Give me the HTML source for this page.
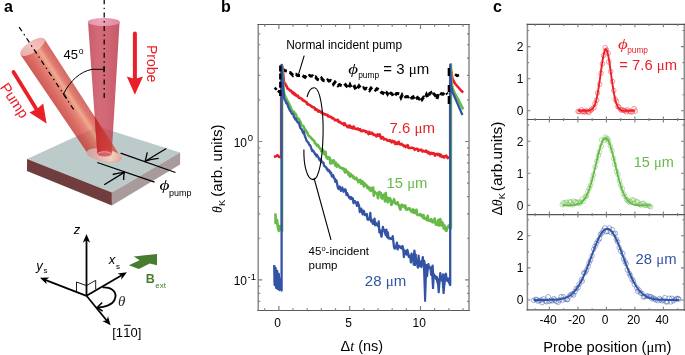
<!DOCTYPE html>
<html><head><meta charset="utf-8"><style>
html,body{margin:0;padding:0;background:#fff;width:685px;height:355px;overflow:hidden}
svg{display:block;will-change:transform}
</style></head><body>
<svg width="685" height="355" viewBox="0 0 685 355"><text x="4" y="11.9" font-family='"Liberation Sans", sans-serif' font-size="16" fill="#000" text-anchor="start" font-weight="bold" font-style="normal" >a</text>
<text x="221" y="11.9" font-family='"Liberation Sans", sans-serif' font-size="16" fill="#000" text-anchor="start" font-weight="bold" font-style="normal" >b</text>
<text x="493" y="11.9" font-family='"Liberation Sans", sans-serif' font-size="16" fill="#000" text-anchor="start" font-weight="bold" font-style="normal" >c</text>
<defs>
<linearGradient id="pumpG" gradientUnits="userSpaceOnUse" x1="20.56" y1="54.73" x2="44.44" y2="38.97">
 <stop offset="0" stop-color="rgb(192,44,38)"/>
 <stop offset="0.25" stop-color="rgb(207,66,56)"/>
 <stop offset="0.5" stop-color="rgb(224,103,82)"/>
 <stop offset="0.63" stop-color="rgb(236,146,114)"/>
 <stop offset="0.78" stop-color="rgb(215,86,71)"/>
 <stop offset="1" stop-color="rgb(200,61,54)"/>
</linearGradient>
<linearGradient id="ovG" gradientUnits="userSpaceOnUse" x1="95" y1="0" x2="118" y2="0">
 <stop offset="0" stop-color="#c0201c" stop-opacity="0.75"/>
 <stop offset="0.5" stop-color="#cc3428" stop-opacity="0.6"/>
 <stop offset="1" stop-color="#d45040" stop-opacity="0.4"/>
</linearGradient>
<linearGradient id="probeG" gradientUnits="userSpaceOnUse" x1="88" y1="0" x2="120" y2="0">
 <stop offset="0" stop-color="rgb(188,52,70)"/>
 <stop offset="0.35" stop-color="rgb(200,71,86)"/>
 <stop offset="0.6" stop-color="rgb(197,65,81)"/>
 <stop offset="1" stop-color="rgb(184,48,66)"/>
</linearGradient>
<linearGradient id="capG" gradientUnits="userSpaceOnUse" x1="20" y1="54" x2="45" y2="39">
 <stop offset="0" stop-color="#e9a7a6"/>
 <stop offset="0.5" stop-color="#f4c4bc"/>
 <stop offset="1" stop-color="#eaa9a6"/>
</linearGradient>
<linearGradient id="pcapG" gradientUnits="userSpaceOnUse" x1="87" y1="0" x2="120" y2="0">
 <stop offset="0" stop-color="#e48fa6"/>
 <stop offset="0.4" stop-color="#eda4b8"/>
 <stop offset="1" stop-color="#e08a9c"/>
</linearGradient>
<linearGradient id="spotG" gradientUnits="userSpaceOnUse" x1="86.9" y1="152.2" x2="121.7" y2="158.4">
 <stop offset="0" stop-color="#d2aaa8"/>
 <stop offset="0.35" stop-color="#e2b8b4"/>
 <stop offset="0.7" stop-color="#f2d8c0"/>
 <stop offset="0.85" stop-color="#eec4b4"/>
 <stop offset="1" stop-color="#e6a4a0"/>
</linearGradient>
</defs>
<polygon points="27,158.9 97.9,126.6 180.1,152.5 111.9,192.6" fill="#bccbca"/>
<polygon points="27,158.9 111.9,192.6 111.9,205.4 27,170.9" fill="#6f3d3d"/>
<polygon points="111.9,192.6 180.1,152.5 180.1,164.5 111.9,205.4" fill="#a99b9b"/>
<path d="M20.56,54.73 L86.87,152.2 A17.7,6 10 0 0 121.73,158.4 L44.44,38.97 Z" fill="url(#pumpG)" fill-opacity="0.78"/>
<ellipse cx="104.3" cy="155.3" rx="17.7" ry="6" transform="rotate(10 104.3 155.3)" fill="url(#spotG)" fill-opacity="0.9" stroke="#e3b0ac" stroke-width="0.6"/>
<ellipse cx="32.5" cy="46.85" rx="14.3" ry="5.6" transform="rotate(-33.42 32.5 46.85)" fill="url(#capG)"/>
<path d="M88,22 L97.3,154 A7.2,2.6 0 0 0 111.7,154 L119.6,22 Z" fill="url(#probeG)" fill-opacity="0.8"/>
<ellipse cx="103.8" cy="22" rx="16.1" ry="4" fill="url(#pcapG)"/>
<clipPath id="probeClip"><path d="M88,22 L97.3,154 A7.2,2.6 0 0 0 111.7,154 L119.6,22 Z"/></clipPath>
<path clip-path="url(#probeClip)" d="M20.56,54.73 L86.87,152.2 A17.7,6 10 0 0 121.73,158.4 L44.44,38.97 Z" fill="url(#ovG)"/>
<ellipse cx="104.5" cy="154.4" rx="7.1" ry="2.7" fill="#e08088" fill-opacity="0.55" stroke="#f0c4c4" stroke-width="0.7"/>
<line x1="19.2" y1="27.1" x2="74" y2="110" stroke="#000" stroke-width="1.25" stroke-dasharray="5 3.5 1.4 3.5"/>
<line x1="104.2" y1="-0.8" x2="104.2" y2="99" stroke="#000" stroke-width="1.25" stroke-dasharray="5 3.5 1.4 3.5"/>
<path d="M63.6,93.8 C70,81 80,71.5 92.3,69.3 L104,69.3" fill="none" stroke="#000" stroke-width="1"/>
<line x1="104" y1="66.6" x2="104" y2="72.2" stroke="#000" stroke-width="1.2"/>
<line x1="63.2" y1="93" x2="66.6" y2="98.4" stroke="#000" stroke-width="1.2"/>
<text x="63.5" y="58.7" font-family='"Liberation Sans", sans-serif' font-size="13" fill="#000" text-anchor="start" font-weight="normal" font-style="normal" >45</text>
<text x="78.8" y="54.2" font-family='"Liberation Sans", sans-serif' font-size="8.5" fill="#000" text-anchor="start" font-weight="normal" font-style="normal" >o</text>
<line x1="13.5" y1="71.9" x2="36" y2="108.5" stroke="#eb1f27" stroke-width="3.8" stroke-linecap="round"/>
<polygon points="46.6,123.6 29.4,112.6 36.9,108.9 43.2,103.4" fill="#eb1f27"/>
<text x="0" y="0" font-family='"Liberation Sans", sans-serif' font-size="14.8" fill="#eb1f27" transform="translate(-0.5 87.3) rotate(56.3)">Pump</text>
<line x1="134.9" y1="33.6" x2="134.9" y2="80" stroke="#eb1f27" stroke-width="4" stroke-linecap="round"/>
<polygon points="126.8,76.4 134.9,94.8 143,76.4 134.9,79" fill="#eb1f27"/>
<text x="0" y="0" font-family='"Liberation Sans", sans-serif' font-size="14" fill="#eb1f27" transform="translate(147.3 45) rotate(90)">Probe</text>
<line x1="120.6" y1="153.2" x2="175.5" y2="172.5" stroke="#000" stroke-width="1.3"/>
<line x1="97.3" y1="162.5" x2="154.6" y2="182.1" stroke="#000" stroke-width="1.3"/>
<line x1="166.3" y1="148.5" x2="145.2" y2="161.2" stroke="#000" stroke-width="1.3"/>
<path d="M147.3,152.4 Q146,158 145.2,161.2 Q151,159 158.6,158.4" fill="none" stroke="#000" stroke-width="1.3"/>
<line x1="104.2" y1="184.7" x2="124.3" y2="172.4" stroke="#000" stroke-width="1.3"/>
<path d="M112.7,174.5 Q119,173 124.3,172.4 Q123.6,176 123.6,180.1" fill="none" stroke="#000" stroke-width="1.3"/>
<text x="159.6" y="190.2" font-family='"Liberation Serif", serif' font-size="15.3" fill="#000" text-anchor="start" font-weight="normal" font-style="italic" textLength="10" lengthAdjust="spacingAndGlyphs">&#981;</text>
<text x="169" y="195.8" font-family='"Liberation Sans", sans-serif' font-size="9" fill="#000" text-anchor="start" font-weight="normal" font-style="normal" >pump</text>
<line x1="86.5" y1="295.8" x2="86.5" y2="239.6" stroke="#000" stroke-width="1.8"/>
<polygon points="86.5,234.1 90.2,242.7 86.5,240.29 82.8,242.7" fill="#000"/>
<line x1="86.5" y1="295.8" x2="45.13" y2="279.79" stroke="#000" stroke-width="1.8"/>
<polygon points="40,277.8 49.36,277.45 45.77,280.04 46.68,284.36" fill="#000"/>
<line x1="86.5" y1="295.8" x2="122.15" y2="275.07" stroke="#000" stroke-width="1.8"/>
<polygon points="126.9,272.3 121.33,279.82 121.55,275.41 117.61,273.43" fill="#000"/>
<line x1="86.5" y1="295.8" x2="107.11" y2="320.95" stroke="#000" stroke-width="1.8"/>
<polygon points="110.6,325.2 102.29,320.89 106.67,320.41 108.01,316.2" fill="#000"/>
<polyline points="76.5,291.9 76.5,282 86.5,285.6 95.7,280.3 95.7,289.4" fill="none" stroke="#000" stroke-width="0.9"/>
<path d="M102.6,287.4 C112,287 118,292 114.5,300 C112,305 104,307.5 98,307.3" fill="none" stroke="#000" stroke-width="1.8"/>
<polyline points="102.2,302.5 97.3,307.3 102.6,311.2" fill="none" stroke="#000" stroke-width="1.6"/>
<text x="118" y="305.8" font-family='"Liberation Serif", serif' font-size="15" fill="#000" text-anchor="start" font-weight="normal" font-style="italic" opacity="0.85">&#952;</text>
<text x="73.8" y="234.4" font-family='"Liberation Sans", sans-serif' font-size="13" fill="#000" text-anchor="start" font-weight="normal" font-style="italic" >z</text>
<text x="36.2" y="269.6" font-family='"Liberation Sans", sans-serif' font-size="13" fill="#000" text-anchor="start" font-weight="normal" font-style="italic" >y</text>
<text x="43.5" y="273.2" font-family='"Liberation Sans", sans-serif' font-size="8" fill="#000" text-anchor="start" font-weight="normal" font-style="normal" >s</text>
<text x="108.8" y="264.4" font-family='"Liberation Sans", sans-serif' font-size="13" fill="#000" text-anchor="start" font-weight="normal" font-style="italic" >x</text>
<text x="116" y="268.6" font-family='"Liberation Sans", sans-serif' font-size="8" fill="#000" text-anchor="start" font-weight="normal" font-style="normal" >s</text>
<polygon points="128.9,265.3 139.6,260.2 133.7,256.4 157,253.9 157,265.3 149.8,263.4 138.8,269.1" fill="#477d31"/>
<text x="145.8" y="283" font-family='"Liberation Sans", sans-serif' font-size="12.5" fill="#477d31" text-anchor="start" font-weight="bold" font-style="normal" >B</text>
<text x="155.3" y="287.5" font-family='"Liberation Sans", sans-serif' font-size="8" fill="#477d31" text-anchor="start" font-weight="normal" font-style="normal" >ext</text>
<text x="112.2" y="336.9" font-family='"Liberation Sans", sans-serif' font-size="13" fill="#000" text-anchor="start" font-weight="normal" font-style="normal" >[1</text>
<text x="123.2" y="336.9" font-family='"Liberation Sans", sans-serif' font-size="13" fill="#000" text-anchor="start" font-weight="normal" font-style="normal" >1</text>
<line x1="124" y1="325.3" x2="130.7" y2="325.3" stroke="#000" stroke-width="1"/>
<text x="130.5" y="336.9" font-family='"Liberation Sans", sans-serif' font-size="13" fill="#000" text-anchor="start" font-weight="normal" font-style="normal" >0]</text>
<path d="M258.2,23.9V311.1M469,23.9V311.1" stroke="#8c8c8c" stroke-width="1.5" fill="none"/>
<path d="M257.5,24.5H469.7M257.5,310.5H469.7" stroke="#5a5a5a" stroke-width="1.15" fill="none"/>
<path d="M264.74,310.5v-2.2M264.74,24.5v2.2M278.9,310.5v-4.4M278.9,24.5v4.4M293.06,310.5v-2.2M293.06,24.5v2.2M307.22,310.5v-2.2M307.22,24.5v2.2M321.38,310.5v-2.2M321.38,24.5v2.2M335.54,310.5v-2.2M335.54,24.5v2.2M349.7,310.5v-4.4M349.7,24.5v4.4M363.86,310.5v-2.2M363.86,24.5v2.2M378.02,310.5v-2.2M378.02,24.5v2.2M392.18,310.5v-2.2M392.18,24.5v2.2M406.34,310.5v-2.2M406.34,24.5v2.2M420.5,310.5v-4.4M420.5,24.5v4.4M434.66,310.5v-2.2M434.66,24.5v2.2M448.82,310.5v-2.2M448.82,24.5v2.2M462.98,310.5v-2.2M462.98,24.5v2.2M258.2,301.34h2M469,301.34h-2M258.2,293.31h2M469,293.31h-2M258.2,286.23h2M469,286.23h-2M258.2,279.9h4M469,279.9h-4M258.2,238.24h2M469,238.24h-2M258.2,213.87h2M469,213.87h-2M258.2,196.57h2M469,196.57h-2M258.2,183.16h2M469,183.16h-2M258.2,172.2h2M469,172.2h-2M258.2,162.94h2M469,162.94h-2M258.2,154.91h2M469,154.91h-2M258.2,147.83h2M469,147.83h-2M258.2,141.5h4M469,141.5h-4M258.2,99.84h2M469,99.84h-2M258.2,75.47h2M469,75.47h-2M258.2,58.17h2M469,58.17h-2M258.2,44.76h2M469,44.76h-2M258.2,33.8h2M469,33.8h-2" stroke="#7f7f7f" stroke-width="1.2" fill="none"/>
<text x="277.7" y="327" font-family='"Liberation Sans", sans-serif' font-size="12" fill="#000" text-anchor="middle" font-weight="normal" font-style="normal" >0</text>
<text x="348.5" y="327" font-family='"Liberation Sans", sans-serif' font-size="12" fill="#000" text-anchor="middle" font-weight="normal" font-style="normal" >5</text>
<text x="419.3" y="327" font-family='"Liberation Sans", sans-serif' font-size="12" fill="#000" text-anchor="middle" font-weight="normal" font-style="normal" >10</text>
<text x="233.7" y="146.9" font-family='"Liberation Sans", sans-serif' font-size="12" fill="#000" text-anchor="start" font-weight="normal" font-style="normal" >10</text>
<text x="247.8" y="141.2" font-family='"Liberation Sans", sans-serif' font-size="9.5" fill="#000" text-anchor="start" font-weight="normal" font-style="normal" >0</text>
<text x="233.7" y="285.4" font-family='"Liberation Sans", sans-serif' font-size="12" fill="#000" text-anchor="start" font-weight="normal" font-style="normal" >10</text>
<text x="247.6" y="279.6" font-family='"Liberation Sans", sans-serif' font-size="9.5" fill="#000" text-anchor="start" font-weight="normal" font-style="normal" >-1</text>
<text font-family='"Liberation Sans", sans-serif' font-size="14" fill="#000" transform="translate(221.8 213) rotate(-90)"><tspan font-family='"Liberation Serif", serif' font-style="italic">&#952;</tspan><tspan font-size="9.5" dy="3">K</tspan></text>
<text font-family='"Liberation Sans", sans-serif' font-size="14.5" fill="#000" transform="translate(221.8 196.8) rotate(-90)" textLength="72.3" lengthAdjust="spacingAndGlyphs">(arb. units)</text>
<text font-family='"Liberation Sans", sans-serif' font-size="14" fill="#000" x="340.5" y="351" textLength="42.6" lengthAdjust="spacingAndGlyphs"><tspan>&#916;</tspan><tspan font-family='"Liberation Serif", serif' font-style="italic">t</tspan> (ns)</text>
<polyline points="282.5,69 284,70.22 285.5,70.9 287,71.1 288.5,72.24 290,72.51 291.5,73.84 293,75.39 294.5,74.13 296,74.26 297.5,75.44 299,75.5 300.5,75.52 302,74.98 303.5,76.18 305,77.23 306.5,75.57 308,76.55 309.5,75.43 311,76.16 312.5,75.84 314,77.47 315.5,76.92 317,79.08 318.5,79.76 320,80.23 321.5,78.31 323,80.28 324.5,80.9 326,81.22 327.5,79.92 329,81.05 330.5,80.49 332,81.19 333.5,84.1 335,82.15 336.5,83.85 338,85.73 339.5,84.51 341,85.49 342.5,85.99 344,86.14 345.5,84.68 347,86.58 348.5,88.46 350,84.89 351.5,88.11 353,87.24 354.5,86.34 356,89.86 357.5,88.34 359,85.88 360.5,87.66 362,88.51 363.5,87.71 365,89.04 366.5,88.26 368,89.41 369.5,90.61 371,88.13 372.5,89.59 374,89.04 375.5,90.12 377,88.73 378.5,89.83 380,90.64 381.5,92.53 383,93.32 384.5,90.57 386,91.73 387.5,94.07 389,91.1 390.5,93.13 392,93.86 393.5,96.46 395,95.41 396.5,93.51 398,93.46 399.5,93.71 401,97.45 402.5,94.29 404,95.06 405.5,96.85 407,96.49 408.5,96.89 410,95.68 411.5,97.75 413,96.9 414.5,99.93 416,98.92 417.5,97.6 419,98.89 420.5,96.91 422,99.44 423.5,97.31 425,98.31 426.5,94.63 428,97.62 429.5,93.63 431,92.67 432.5,95.57 434,94.05 435.5,95.68 437,99.25 438.5,93.01 440,93.01 441.5,94.08 443,94.12 444.5,92.33 446,92.28 447.5,94.25" fill="none" stroke="#000" stroke-width="3" stroke-dasharray="5 2.8"/>
<polyline points="274.6,87.7 276,89 277.5,90.5 279.6,92.2 281,94" fill="none" stroke="#000" stroke-width="2.4" stroke-dasharray="3 1.5"/>
<polyline points="448.6,68.5 450.5,70 451.5,73.5" fill="none" stroke="#000" stroke-width="2.6"/>
<polyline points="455,74.2 457,75.8 459,75" fill="none" stroke="#000" stroke-width="2.6"/>
<polyline points="274,157 276,156.3 277.5,155.2 279,156.8 281.2,157.5 281.2,67 282.5,67.26 283.2,73.98 283.9,81.96 284.6,83.18 285.3,83.81 286,85.63 286.7,86.24 287.4,88.32 288.1,88.72 288.8,89.41 289.5,89.8 290.2,90.77 290.9,90.56 291.6,91.72 292.3,93 293,92.21 293.7,94.15 294.4,93.31 295.1,95.01 295.8,94.66 296.5,95.93 297.2,96.06 297.9,95.67 298.6,97.52 299.3,98.07 300,97.77 300.7,98.2 301.4,98.8 302.1,98.94 302.8,100.51 303.5,100.24 304.2,101.02 304.9,101.19 305.6,101.82 306.3,102.03 307,103.84 307.7,103.67 308.4,104.77 309.1,104.82 309.8,105 310.5,105.66 311.2,106 311.9,106.74 312.6,107 313.3,107.5 314,107.41 314.7,108.15 315.4,109.84 316.1,109.13 316.8,109.39 317.5,110.54 318.2,111.53 318.9,110.56 319.6,111.64 320.3,111.83 321,111.6 321.7,113.18 322.4,113.14 323.1,113.52 323.8,113.45 324.5,114.39 325.2,114.23 325.9,114.76 326.6,114.61 327.3,114.9 328,116.51 328.7,115.92 329.4,116.66 330.1,116.83 330.8,116.88 331.5,117.18 332.2,118.39 332.9,118.05 333.6,118.52 334.3,119.01 335,120.23 335.7,120.22 336.4,120.35 337.1,120 337.8,119.74 338.5,121.85 339.2,122.22 339.9,121.74 340.6,122.61 341.3,123.14 342,123.52 342.7,123.94 343.4,123.26 344.1,125.09 344.8,123.37 345.5,125.3 346.2,125.37 346.9,126.01 347.6,127.11 348.3,127.16 349,125.54 349.7,125.48 350.4,127.65 351.1,126.51 351.8,127.5 352.5,128.38 353.2,126.76 353.9,126.64 354.6,128.66 355.3,128.74 356,128.76 356.7,129.21 357.4,128.77 358.1,128.52 358.8,129.77 359.5,129.4 360.2,129.12 360.9,130.92 361.6,130.69 362.3,131.23 363,130.37 363.7,130.81 364.4,130.74 365.1,131.01 365.8,132.01 366.5,131.47 367.2,132.51 367.9,132.69 368.6,134.14 369.3,131.77 370,133.67 370.7,133.21 371.4,133.55 372.1,132.75 372.8,133.77 373.5,134.96 374.2,134.62 374.9,135.02 375.6,135.02 376.3,136.39 377,135.78 377.7,134.43 378.4,135.84 379.1,135.16 379.8,134.48 380.5,136.8 381.2,138.48 381.9,137.8 382.6,137.16 383.3,137.61 384,139.45 384.7,139 385.4,139.2 386.1,139.4 386.8,139.75 387.5,140.6 388.2,140.69 388.9,140.72 389.6,140.06 390.3,141.48 391,140.8 391.7,142.36 392.4,140.8 393.1,141.87 393.8,142.19 394.5,141.42 395.2,143.93 395.9,143.95 396.6,142.73 397.3,143.88 398,143.8 398.7,141.78 399.4,144.15 400.1,144.14 400.8,144.46 401.5,143.81 402.2,144.64 402.9,144.93 403.6,146.18 404.3,145.76 405,145.72 405.7,147.09 406.4,145.75 407.1,146.09 407.8,145.24 408.5,148 409.2,147.77 409.9,147.96 410.6,147.97 411.3,147.75 412,148.03 412.7,147.88 413.4,148.12 414.1,148.51 414.8,149.8 415.5,149.28 416.2,149.02 416.9,148.83 417.6,148.99 418.3,150.87 419,150.25 419.7,150.12 420.4,150 421.1,149.63 421.8,150.61 422.5,151.52 423.2,150.77 423.9,151.09 424.6,151.3 425.3,151.74 426,150.67 426.7,151.88 427.4,151.62 428.1,153.12 428.8,152.08 429.5,153.29 430.2,154.19 430.9,152.96 431.6,152.9 432.3,153.65 433,153.67 433.7,153.08 434.4,154.32 435.1,155.64 435.8,154.1 436.5,154.29 437.2,153.82 437.9,154.99 438.6,153.98 439.3,154.24 440,156.18 440.7,154.7 441.4,156.34 442.1,156.83 442.8,156.04 443.5,156.42 444.2,157.62 444.9,156.16 445.6,156.02 446.3,155.61 447,156.81 447.7,158.04 448.4,157.72 450.2,157 450.2,67 451.2,72 452.5,79 455,83.5 458,87 461,90.5 463.2,92.5" fill="none" stroke="#eb1f27" stroke-width="2.6" stroke-linejoin="round"/>
<polyline points="275.4,213.4 275.6,218 275.5,223 277,220 278,228 278.8,231 280,226 282,231 282,65 283.5,89.32 284.2,93.88 284.9,95.48 285.6,97.35 286.3,98.45 287,100.09 287.7,101.53 288.4,102.56 289.1,104.11 289.8,105.65 290.5,106.87 291.2,108.61 291.9,110.77 292.6,111.03 293.3,111.73 294,111.71 294.7,113.98 295.4,113.6 296.1,114.95 296.8,117.33 297.5,118.27 298.2,118.78 298.9,118.86 299.6,120.69 300.3,121.57 301,123.48 301.7,125.57 302.4,125.47 303.1,125.99 303.8,126.88 304.5,128.67 305.2,129.71 305.9,130.25 306.6,132.13 307.3,132.49 308,134.79 308.7,135.64 309.4,136.53 310.1,136.47 310.8,137.94 311.5,138.43 312.2,139.16 312.9,140.06 313.6,140.37 314.3,141.16 315,143.38 315.7,143.54 316.4,144.54 317.1,145.77 317.8,144.88 318.5,146.21 319.2,147.54 319.9,148.43 320.6,148.45 321.3,151.21 322,150.85 322.7,149.65 323.4,150.84 324.1,154.06 324.8,154.37 325.5,151.86 326.2,157.19 326.9,156.93 327.6,158.77 328.3,157.14 329,158.06 329.7,157.68 330.4,163.48 331.1,160.26 331.8,163.3 332.5,160.74 333.2,162.45 333.9,160.46 334.6,162.84 335.3,165.32 336,162.77 336.7,166.6 337.4,166.14 338.1,164.78 338.8,166.11 339.5,166.75 340.2,167.87 340.9,167.66 341.6,167.73 342.3,168.94 343,168.4 343.7,168.51 344.4,170.72 345.1,172.5 345.8,169.6 346.5,172.22 347.2,171.79 347.9,171.8 348.6,174.84 349.3,173.4 350,176.7 350.7,174.03 351.4,176.18 352.1,175.84 352.8,175.62 353.5,178.01 354.2,177.49 354.9,179.07 355.6,178.68 356.3,177.74 357,179.64 357.7,180.37 358.4,182.16 359.1,180.07 359.8,181.8 360.5,179.96 361.2,183.8 361.9,181.89 362.6,181.4 363.3,184.36 364,186.51 364.7,183.34 365.4,184.47 366.1,185.47 366.8,185.45 367.5,188.08 368.2,186.94 368.9,187.58 369.6,189.92 370.3,188 371,190.92 371.7,188.4 372.4,188.32 373.1,187.44 373.8,195.63 374.5,191.47 375.2,193.08 375.9,192.93 376.6,193.76 377.3,193.96 378,198.29 378.7,192.53 379.4,191.86 380.1,193.43 380.8,193.17 381.5,197.95 382.2,198.52 382.9,195.19 383.6,194.7 384.3,197.29 385,201.37 385.7,192.94 386.4,200.38 387.1,197.43 387.8,202.29 388.5,198.25 389.2,200.33 389.9,198.18 390.6,199.6 391.3,204.86 392,203.96 392.7,201.69 393.4,201 394.1,199.15 394.8,202.59 395.5,203.65 396.2,203.83 396.9,204.1 397.6,202.24 398.3,204.75 399,205.1 399.7,208.18 400.4,209.68 401.1,205.75 401.8,204.71 402.5,206.46 403.2,205.6 403.9,205.6 404.6,207.32 405.3,205.58 406,209.45 406.7,208.37 407.4,209.52 408.1,209.01 408.8,208.28 409.5,208.22 410.2,210.12 410.9,209.87 411.6,211.92 412.3,211.82 413,209.38 413.7,212.79 414.4,210.23 415.1,212.16 415.8,213.18 416.5,209.79 417.2,214.69 417.9,215.17 418.6,214.87 419.3,214.66 420,215.12 420.7,214.2 421.4,216.03 422.1,215.79 422.8,217.49 423.5,215.12 424.2,218.49 424.9,218.65 425.6,218.31 426.3,217.92 427,220.24 427.7,215.82 428.4,220.52 429.1,220.3 429.8,220.63 430.5,221.07 431.2,219.14 431.9,220.2 432.6,222.32 433.3,222.13 434,221.89 434.7,218.52 435.4,223.12 436.1,224.78 436.8,224.78 437.5,223.49 438.2,220.06 438.9,225.65 439.6,223.7 440.3,219.03 441,225.47 441.7,221.88 442.4,222.63 443.1,224.35 443.8,228.7 444.5,225.58 445.2,227.26 445.9,230.68 446.6,230.68 447.3,227.43 448,227.46 448.7,225.55 450.9,228 450.9,64.2 451.5,82 452.5,88 455,94 459,101 463.2,109.3" fill="none" stroke="#66ba47" stroke-width="2.6" stroke-linejoin="round"/>
<polyline points="274.2,265 274.6,285 275.6,268 276.2,288 277.2,271 277.8,289 278.8,274 279.4,290 280.4,279 281.6,290.5 281.6,65 283.5,92.76 284.2,98.68 284.9,100.04 285.6,101.18 286.3,103.36 287,103.17 287.7,105.2 288.4,107.3 289.1,108.56 289.8,110.39 290.5,111.17 291.2,111.93 291.9,113.89 292.6,113.78 293.3,114.32 294,117.44 294.7,117.98 295.4,119.43 296.1,118.74 296.8,121.06 297.5,121.97 298.2,122.85 298.9,122.71 299.6,125.56 300.3,127.89 301,128.78 301.7,129.25 302.4,131.13 303.1,133.17 303.8,131.36 304.5,135.09 305.2,137.04 305.9,138.52 306.6,140.79 307.3,141.63 308,142.18 308.7,143.43 309.4,145.12 310.1,145.18 310.8,146.89 311.5,149 312.2,151.2 312.9,150.3 313.6,151.3 314.3,152.43 315,154.36 315.7,154.03 316.4,156.28 317.1,154.99 317.8,156.6 318.5,157.49 319.2,159.28 319.9,160.41 320.6,159.01 321.3,160.44 322,162.46 322.7,162.46 323.4,162.58 324.1,165.78 324.8,166.19 325.5,167.08 326.2,167.11 326.9,169.36 327.6,169.11 328.3,171.21 329,170.3 329.7,171.25 330.4,173.37 331.1,172.67 331.8,176.31 332.5,176.54 333.2,175.32 333.9,178.23 334.6,178.45 335.3,181.88 336,179.96 336.7,181.35 337.4,185.51 338.1,188.48 338.8,189.05 339.5,186.39 340.2,187.63 340.9,190.86 341.6,188.44 342.3,187.56 343,190.37 343.7,191.74 344.4,190.04 345.1,189.23 345.8,190.36 346.5,195.09 347.2,193.12 347.9,195.03 348.6,196.43 349.3,197.94 350,196.86 350.7,199.15 351.4,197.21 352.1,198.91 352.8,198.35 353.5,203.15 354.2,201.65 354.9,201 355.6,202.43 356.3,203.38 357,205.83 357.7,202.17 358.4,203.93 359.1,205.88 359.8,212.11 360.5,209.87 361.2,208.61 361.9,210.94 362.6,214.27 363.3,210.69 364,211.2 364.7,214.97 365.4,214.38 366.1,215.49 366.8,214.01 367.5,219.41 368.2,219.77 368.9,218.37 369.6,219.36 370.3,212.95 371,221.45 371.7,219.81 372.4,222.4 373.1,223.89 373.8,221.69 374.5,218.55 375.2,225.29 375.9,222.84 376.6,224.8 377.3,224.78 378,226.31 378.7,221.37 379.4,232.37 380.1,230.33 380.8,233.47 381.5,236.64 382.2,231.61 382.9,226.97 383.6,230.26 384.3,230 385,232.69 385.7,235.03 386.4,229.65 387.1,237.1 387.8,232.37 388.5,238.27 389.2,237.74 389.9,237.8 390.6,239.1 391.3,238.34 392,238.72 392.7,236.22 393.4,241.6 394.1,247.64 394.8,248.62 395.5,247.31 396.2,246.12 396.9,242.7 397.6,249.44 398.3,245.69 399,246.25 399.7,246.2 400.4,247.88 401.1,246.91 401.8,248.48 402.5,246.13 403.2,248.75 403.9,257 404.6,250.74 405.3,250.8 406,253.59 406.7,254.65 407.4,249.92 408.1,253.11 408.8,256.92 409.5,255.6 410.2,255.88 410.9,262.45 411.6,253.66 412.3,257.44 413,255.5 413.7,264.53 414.4,250.66 415.1,256.63 415.8,257.81 416.5,263.41 417.2,263.75 417.9,267.66 418.6,255.77 419.3,266.12 420,262.33 420.7,261.35 421.4,267.01 422.1,261.47 422.8,257.21 423.5,264.97 424.2,260.83 424.9,264.99 425.6,269.87 426.3,270.22 427,276.16 427.7,269.26 428.4,264.25 429.1,268.11 429.8,268.02 430.5,267.36 431.2,274.86 431.9,270.8 432.6,265.68 433.3,277.39 434,274.47 434.7,276.91 435.4,276.34 436.1,279.02 436.8,277 437.5,282.51 438.2,279.58 438.9,279.92 439.6,280.47 440.3,273.11 441,279.01 441.7,278.78 442.4,280.91 443.1,274.5 443.8,287.24 444.5,280.99 445.2,275.63 445.9,273.71 446.6,279.88 447.3,280.85 448,278.38 448.7,281.79 450.2,285 450.2,65 451,85 452.5,92 455.5,99 459,107 462.4,115" fill="none" stroke="#3353a5" stroke-width="2.3" stroke-linejoin="round"/>
<polyline points="423.8,264 425.1,301.7 426.4,264" fill="none" stroke="#3353a5" stroke-width="2"/>
<polyline points="437.5,278 438.7,293.2 440,278" fill="none" stroke="#3353a5" stroke-width="2"/>
<polyline points="432,272 433,289 434,274" fill="none" stroke="#3353a5" stroke-width="2"/>
<polyline points="442.5,280 443.6,294 444.7,281" fill="none" stroke="#3353a5" stroke-width="2"/>
<polyline points="414,252 415,266 416,254" fill="none" stroke="#3353a5" stroke-width="2"/>
<line x1="280.3" y1="96" x2="280.3" y2="64" stroke="#000" stroke-width="2.4" stroke-dasharray="6 2.2"/>
<line x1="448.9" y1="68" x2="448.9" y2="106" stroke="#000" stroke-width="2.4" stroke-dasharray="8 9 7 4 8"/>
<text x="286.2" y="48.6" font-family='"Liberation Sans", sans-serif' font-size="12" fill="#000" text-anchor="start" font-weight="normal" font-style="normal" textLength="116" lengthAdjust="spacingAndGlyphs">Normal incident pump</text>
<line x1="304.2" y1="55.7" x2="298.5" y2="74.3" stroke="#000" stroke-width="1.1"/>
<text x="348.3" y="74.3" font-family='"Liberation Serif", serif' font-size="14.8" fill="#000" text-anchor="start" font-weight="normal" font-style="italic" textLength="9.8" lengthAdjust="spacingAndGlyphs">&#981;</text>
<text x="358.2" y="78.4" font-family='"Liberation Sans", sans-serif' font-size="9" fill="#000" text-anchor="start" font-weight="normal" font-style="normal" textLength="21" lengthAdjust="spacingAndGlyphs">pump</text>
<text x="383.3" y="74.1" font-family='"Liberation Sans", sans-serif' font-size="14.5" fill="#000" text-anchor="start" font-weight="normal" font-style="normal" textLength="46" lengthAdjust="spacingAndGlyphs">= 3 <tspan font-family="Liberation Serif, serif">&#956;</tspan>m</text>
<text x="389.5" y="132.5" font-family='"Liberation Sans", sans-serif' font-size="14.5" fill="#eb1f27" text-anchor="start" font-weight="normal" font-style="normal" textLength="45.5" lengthAdjust="spacingAndGlyphs">7.6 <tspan font-family="Liberation Serif, serif">&#956;</tspan>m</text>
<text x="386.5" y="188.4" font-family='"Liberation Sans", sans-serif' font-size="14.5" fill="#66ba47" text-anchor="start" font-weight="normal" font-style="normal" textLength="41" lengthAdjust="spacingAndGlyphs">15 <tspan font-family="Liberation Serif, serif">&#956;</tspan>m</text>
<text x="364.8" y="286" font-family='"Liberation Sans", sans-serif' font-size="14.5" fill="#3353a5" text-anchor="start" font-weight="normal" font-style="normal" textLength="41.5" lengthAdjust="spacingAndGlyphs">28 <tspan font-family="Liberation Serif, serif">&#956;</tspan>m</text>
<path d="M307,97 C309,89 312.5,87.5 314.7,87.7 C320,88.5 323.5,110 323.1,132.6 C322.8,158 319,179.6 313.2,179.6 C307,179.6 303.5,165 303.9,149.6" fill="none" stroke="#000" stroke-width="1.1"/>
<line x1="314" y1="178" x2="331" y2="239.8" stroke="#000" stroke-width="1.1"/>
<text font-family='"Liberation Sans", sans-serif' font-size="11.5" x="308.6" y="255.1">45<tspan font-size="7.5" dy="-4.5">o</tspan><tspan dy="4.5">-incident</tspan></text>
<text x="308.6" y="268.6" font-family='"Liberation Sans", sans-serif' font-size="11.5" fill="#000" text-anchor="start" font-weight="normal" font-style="normal" >pump</text>
<path d="M527.4,23.7V310.40000000000003M684.3,23.7V310.40000000000003" stroke="#8c8c8c" stroke-width="1.5" fill="none"/>
<path d="M526.6999999999999,24.3H685M526.6999999999999,119.5H685M526.6999999999999,214.6H685M526.6999999999999,309.8H685" stroke="#555" stroke-width="1.15" fill="none"/>
<text x="523.5" y="115.1" font-family='"Liberation Sans", sans-serif' font-size="12" fill="#000" text-anchor="end" font-weight="normal" font-style="normal" >0</text>
<text x="523.5" y="83" font-family='"Liberation Sans", sans-serif' font-size="12" fill="#000" text-anchor="end" font-weight="normal" font-style="normal" >1</text>
<text x="523.5" y="50.9" font-family='"Liberation Sans", sans-serif' font-size="12" fill="#000" text-anchor="end" font-weight="normal" font-style="normal" >2</text>
<text x="523.5" y="209.7" font-family='"Liberation Sans", sans-serif' font-size="12" fill="#000" text-anchor="end" font-weight="normal" font-style="normal" >0</text>
<text x="523.5" y="177.6" font-family='"Liberation Sans", sans-serif' font-size="12" fill="#000" text-anchor="end" font-weight="normal" font-style="normal" >1</text>
<text x="523.5" y="145.5" font-family='"Liberation Sans", sans-serif' font-size="12" fill="#000" text-anchor="end" font-weight="normal" font-style="normal" >2</text>
<text x="523.5" y="304.3" font-family='"Liberation Sans", sans-serif' font-size="12" fill="#000" text-anchor="end" font-weight="normal" font-style="normal" >0</text>
<text x="523.5" y="272.2" font-family='"Liberation Sans", sans-serif' font-size="12" fill="#000" text-anchor="end" font-weight="normal" font-style="normal" >1</text>
<text x="523.5" y="240.1" font-family='"Liberation Sans", sans-serif' font-size="12" fill="#000" text-anchor="end" font-weight="normal" font-style="normal" >2</text>
<path d="M535.15,119.5v-1.6M535.15,24.3v1.6M549.4,119.5v-3M549.4,24.3v3M563.65,119.5v-1.6M563.65,24.3v1.6M577.9,119.5v-3M577.9,24.3v3M592.15,119.5v-1.6M592.15,24.3v1.6M606.4,119.5v-3M606.4,24.3v3M620.65,119.5v-1.6M620.65,24.3v1.6M634.9,119.5v-3M634.9,24.3v3M649.15,119.5v-1.6M649.15,24.3v1.6M663.4,119.5v-3M663.4,24.3v3M677.65,119.5v-1.6M677.65,24.3v1.6M527.4,110.8h3M684,110.8h-3M527.4,94.75h1.6M684,94.75h-1.6M527.4,78.7h3M684,78.7h-3M527.4,62.65h1.6M684,62.65h-1.6M527.4,46.6h3M684,46.6h-3M527.4,30.55h1.6M684,30.55h-1.6M535.15,214.6v-1.6M535.15,119.5v1.6M549.4,214.6v-3M549.4,119.5v3M563.65,214.6v-1.6M563.65,119.5v1.6M577.9,214.6v-3M577.9,119.5v3M592.15,214.6v-1.6M592.15,119.5v1.6M606.4,214.6v-3M606.4,119.5v3M620.65,214.6v-1.6M620.65,119.5v1.6M634.9,214.6v-3M634.9,119.5v3M649.15,214.6v-1.6M649.15,119.5v1.6M663.4,214.6v-3M663.4,119.5v3M677.65,214.6v-1.6M677.65,119.5v1.6M527.4,205.4h3M684,205.4h-3M527.4,189.35h1.6M684,189.35h-1.6M527.4,173.3h3M684,173.3h-3M527.4,157.25h1.6M684,157.25h-1.6M527.4,141.2h3M684,141.2h-3M527.4,125.15h1.6M684,125.15h-1.6M535.15,309.8v-1.6M535.15,214.6v1.6M549.4,309.8v-3M549.4,214.6v3M563.65,309.8v-1.6M563.65,214.6v1.6M577.9,309.8v-3M577.9,214.6v3M592.15,309.8v-1.6M592.15,214.6v1.6M606.4,309.8v-3M606.4,214.6v3M620.65,309.8v-1.6M620.65,214.6v1.6M634.9,309.8v-3M634.9,214.6v3M649.15,309.8v-1.6M649.15,214.6v1.6M663.4,309.8v-3M663.4,214.6v3M677.65,309.8v-1.6M677.65,214.6v1.6M527.4,300h3M684,300h-3M527.4,283.95h1.6M684,283.95h-1.6M527.4,267.9h3M684,267.9h-3M527.4,251.85h1.6M684,251.85h-1.6M527.4,235.8h3M684,235.8h-3M527.4,219.75h1.6M684,219.75h-1.6" stroke="#7f7f7f" stroke-width="1.1" fill="none"/>
<text x="548.1" y="323.8" font-family='"Liberation Sans", sans-serif' font-size="12" fill="#000" text-anchor="middle" font-weight="normal" font-style="normal" >-40</text>
<text x="576.6" y="323.8" font-family='"Liberation Sans", sans-serif' font-size="12" fill="#000" text-anchor="middle" font-weight="normal" font-style="normal" >-20</text>
<text x="605.1" y="323.8" font-family='"Liberation Sans", sans-serif' font-size="12" fill="#000" text-anchor="middle" font-weight="normal" font-style="normal" >0</text>
<text x="633.6" y="323.8" font-family='"Liberation Sans", sans-serif' font-size="12" fill="#000" text-anchor="middle" font-weight="normal" font-style="normal" >20</text>
<text x="662.1" y="323.8" font-family='"Liberation Sans", sans-serif' font-size="12" fill="#000" text-anchor="middle" font-weight="normal" font-style="normal" >40</text>
<text font-family='"Liberation Sans", sans-serif' font-size="14" fill="#000" x="543.2" y="351.6" textLength="128.3" lengthAdjust="spacingAndGlyphs">Probe position (<tspan font-family="Liberation Serif, serif">&#956;</tspan>m)</text>
<text font-family='"Liberation Sans", sans-serif' font-size="14" fill="#000" transform="translate(502.2 215.5) rotate(-90)"><tspan>&#916;</tspan><tspan font-family='"Liberation Serif", serif' font-style="italic">&#952;</tspan><tspan font-size="9.5" dy="3">K</tspan></text>
<text font-family='"Liberation Sans", sans-serif' font-size="14.5" fill="#000" transform="translate(502.2 191.2) rotate(-90)" textLength="69.5" lengthAdjust="spacingAndGlyphs">(arb.units)</text>
<g fill="none" stroke="#eb1f27" stroke-width="0.55" stroke-opacity="0.85"><circle cx="578.07" cy="111.42" r="2.3"/><circle cx="579.31" cy="111.5" r="2.3"/><circle cx="581.52" cy="109.86" r="2.3"/><circle cx="582.04" cy="111.77" r="2.3"/><circle cx="583.84" cy="111.6" r="2.3"/><circle cx="584.88" cy="111.89" r="2.3"/><circle cx="586.16" cy="110.78" r="2.3"/><circle cx="587.73" cy="111.59" r="2.3"/><circle cx="588.87" cy="112.48" r="2.3"/><circle cx="590.77" cy="110.39" r="2.3"/><circle cx="591.62" cy="109.22" r="2.3"/><circle cx="593.81" cy="107.69" r="2.3"/><circle cx="594.98" cy="103.63" r="2.3"/><circle cx="596.61" cy="100.17" r="2.3"/><circle cx="597.5" cy="92.98" r="2.3"/><circle cx="599.71" cy="84.33" r="2.3"/><circle cx="601.05" cy="73.21" r="2.3"/><circle cx="602.41" cy="63.78" r="2.3"/><circle cx="603.5" cy="55.54" r="2.3"/><circle cx="605.21" cy="47.62" r="2.3"/><circle cx="606.37" cy="50.03" r="2.3"/><circle cx="608.19" cy="53.34" r="2.3"/><circle cx="608.73" cy="61.92" r="2.3"/><circle cx="610.68" cy="71.61" r="2.3"/><circle cx="612.5" cy="81.49" r="2.3"/><circle cx="613.77" cy="90.49" r="2.3"/><circle cx="615.21" cy="99.17" r="2.3"/><circle cx="616.61" cy="101.33" r="2.3"/><circle cx="617.85" cy="106.5" r="2.3"/><circle cx="618.95" cy="107.04" r="2.3"/><circle cx="620.79" cy="109.96" r="2.3"/><circle cx="621.94" cy="109.67" r="2.3"/><circle cx="623.42" cy="110.34" r="2.3"/><circle cx="624.89" cy="110.62" r="2.3"/><circle cx="626.34" cy="111.88" r="2.3"/><circle cx="627.48" cy="109.95" r="2.3"/><circle cx="629.4" cy="111.03" r="2.3"/><circle cx="630.68" cy="111.83" r="2.3"/><circle cx="632.39" cy="111.82" r="2.3"/><circle cx="634.08" cy="108.57" r="2.3"/><circle cx="635.12" cy="111.01" r="2.3"/></g>
<polyline points="577.9,110.8 578.61,110.8 579.32,110.8 580.04,110.8 580.75,110.8 581.46,110.8 582.17,110.8 582.89,110.8 583.6,110.79 584.31,110.79 585.02,110.78 585.74,110.77 586.45,110.75 587.16,110.72 587.88,110.67 588.59,110.58 589.3,110.46 590.01,110.27 590.73,109.99 591.44,109.6 592.15,109.04 592.86,108.27 593.57,107.25 594.29,105.9 595,104.16 595.71,101.99 596.42,99.32 597.14,96.13 597.85,92.42 598.56,88.21 599.27,83.56 599.99,78.58 600.7,73.42 601.41,68.26 602.12,63.32 602.84,58.81 603.55,54.96 604.26,51.98 604.98,50.02 605.69,49.19 606.4,49.55 607.11,51.06 607.82,53.66 608.54,57.18 609.25,61.45 609.96,66.25 610.67,71.34 611.39,76.53 612.1,81.6 612.81,86.39 613.52,90.79 614.24,94.71 614.95,98.11 615.66,100.98 616.38,103.35 617.09,105.25 617.8,106.75 618.51,107.9 619.23,108.76 619.94,109.4 620.65,109.85 621.36,110.17 622.07,110.39 622.79,110.54 623.5,110.64 624.21,110.7 624.92,110.74 625.64,110.76 626.35,110.78 627.06,110.79 627.77,110.79 628.49,110.8 629.2,110.8 629.91,110.8 630.62,110.8 631.34,110.8 632.05,110.8 632.76,110.8 633.48,110.8 634.19,110.8 634.9,110.8" fill="none" stroke="#eb1f27" stroke-width="1.9"/>
<g fill="none" stroke="#66ba47" stroke-width="0.55" stroke-opacity="0.85"><circle cx="562.26" cy="204.81" r="2.3"/><circle cx="563.25" cy="202.71" r="2.3"/><circle cx="565.06" cy="202.99" r="2.3"/><circle cx="566.56" cy="202.1" r="2.3"/><circle cx="568.01" cy="204.28" r="2.3"/><circle cx="569.36" cy="201.97" r="2.3"/><circle cx="570.62" cy="201.83" r="2.3"/><circle cx="572.47" cy="204.85" r="2.3"/><circle cx="573.67" cy="201" r="2.3"/><circle cx="575.36" cy="201.72" r="2.3"/><circle cx="576.26" cy="202.41" r="2.3"/><circle cx="578.26" cy="202.07" r="2.3"/><circle cx="579.68" cy="203.5" r="2.3"/><circle cx="580.42" cy="202.2" r="2.3"/><circle cx="582.15" cy="199.06" r="2.3"/><circle cx="583.49" cy="201.19" r="2.3"/><circle cx="585.38" cy="196.61" r="2.3"/><circle cx="586.57" cy="196.02" r="2.3"/><circle cx="587.68" cy="191.56" r="2.3"/><circle cx="589.29" cy="188.34" r="2.3"/><circle cx="590.58" cy="185.12" r="2.3"/><circle cx="592.16" cy="179.37" r="2.3"/><circle cx="593.45" cy="174.69" r="2.3"/><circle cx="595.06" cy="166.68" r="2.3"/><circle cx="596.79" cy="160.97" r="2.3"/><circle cx="598.53" cy="155.46" r="2.3"/><circle cx="599.52" cy="151.78" r="2.3"/><circle cx="601.26" cy="146.32" r="2.3"/><circle cx="601.54" cy="139.88" r="2.3"/><circle cx="603.75" cy="140.65" r="2.3"/><circle cx="605.2" cy="137.09" r="2.3"/><circle cx="606.54" cy="138.34" r="2.3"/><circle cx="607.8" cy="138.99" r="2.3"/><circle cx="608.57" cy="141.42" r="2.3"/><circle cx="610.36" cy="145.99" r="2.3"/><circle cx="612.03" cy="150.55" r="2.3"/><circle cx="613.64" cy="158.52" r="2.3"/><circle cx="614.68" cy="164.48" r="2.3"/><circle cx="616.37" cy="171.31" r="2.3"/><circle cx="618.11" cy="174.46" r="2.3"/><circle cx="619.54" cy="180.69" r="2.3"/><circle cx="620.62" cy="185.36" r="2.3"/><circle cx="622.39" cy="188.89" r="2.3"/><circle cx="623.43" cy="193.65" r="2.3"/><circle cx="624.95" cy="196.34" r="2.3"/><circle cx="626.66" cy="199.58" r="2.3"/><circle cx="627.91" cy="200.63" r="2.3"/><circle cx="629.31" cy="202.34" r="2.3"/><circle cx="630.5" cy="201.49" r="2.3"/><circle cx="632.16" cy="199.74" r="2.3"/><circle cx="633.76" cy="200.11" r="2.3"/><circle cx="634.79" cy="203.14" r="2.3"/><circle cx="636.34" cy="201.57" r="2.3"/><circle cx="637.66" cy="201.96" r="2.3"/><circle cx="639.11" cy="204.35" r="2.3"/><circle cx="640.71" cy="205.04" r="2.3"/><circle cx="641.81" cy="203.44" r="2.3"/><circle cx="643.53" cy="203.23" r="2.3"/><circle cx="644.35" cy="205.27" r="2.3"/><circle cx="645.69" cy="205.29" r="2.3"/><circle cx="648.2" cy="205.59" r="2.3"/><circle cx="649.35" cy="206.06" r="2.3"/><circle cx="650.66" cy="206.73" r="2.3"/></g>
<polyline points="562.23,205.4 562.94,205.4 563.65,205.39 564.36,205.39 565.07,205.39 565.79,205.39 566.5,205.38 567.21,205.37 567.92,205.36 568.64,205.35 569.35,205.34 570.06,205.32 570.77,205.29 571.49,205.26 572.2,205.22 572.91,205.17 573.62,205.1 574.34,205.02 575.05,204.92 575.76,204.8 576.48,204.65 577.19,204.47 577.9,204.25 578.61,203.98 579.32,203.67 580.04,203.29 580.75,202.85 581.46,202.33 582.17,201.72 582.89,201.02 583.6,200.21 584.31,199.29 585.02,198.24 585.74,197.06 586.45,195.73 587.16,194.25 587.88,192.62 588.59,190.82 589.3,188.86 590.01,186.75 590.73,184.47 591.44,182.04 592.15,179.47 592.86,176.77 593.57,173.97 594.29,171.07 595,168.11 595.71,165.11 596.42,162.11 597.14,159.13 597.85,156.22 598.56,153.4 599.27,150.72 599.99,148.21 600.7,145.91 601.41,143.85 602.12,142.06 602.84,140.57 603.55,139.4 604.26,138.58 604.98,138.11 605.69,138 606.4,138.25 607.11,138.87 607.82,139.83 608.54,141.13 609.25,142.74 609.96,144.64 610.67,146.8 611.39,149.19 612.1,151.78 612.81,154.52 613.52,157.38 614.24,160.32 614.95,163.31 615.66,166.32 616.38,169.3 617.09,172.24 617.8,175.1 618.51,177.87 619.23,180.52 619.94,183.03 620.65,185.4 621.36,187.61 622.07,189.67 622.79,191.56 623.5,193.29 624.21,194.86 624.92,196.28 625.64,197.55 626.35,198.67 627.06,199.67 627.77,200.55 628.49,201.31 629.2,201.97 629.91,202.55 630.62,203.03 631.34,203.45 632.05,203.8 632.76,204.1 633.48,204.34 634.19,204.55 634.9,204.71 635.61,204.85 636.32,204.97 637.04,205.06 637.75,205.13 638.46,205.19 639.17,205.24 639.89,205.27 640.6,205.3 641.31,205.33 642.02,205.34 642.74,205.36 643.45,205.37 644.16,205.38 644.88,205.38 645.59,205.39 646.3,205.39 647.01,205.39 647.73,205.39 648.44,205.4 649.15,205.4 649.86,205.4 650.57,205.4" fill="none" stroke="#66ba47" stroke-width="1.9"/>
<g fill="none" stroke="#3353a5" stroke-width="0.55" stroke-opacity="0.85"><circle cx="533.71" cy="300.41" r="2.3"/><circle cx="535.68" cy="299.27" r="2.3"/><circle cx="536.61" cy="299.75" r="2.3"/><circle cx="538.18" cy="301.24" r="2.3"/><circle cx="539.67" cy="300.31" r="2.3"/><circle cx="541.37" cy="300.04" r="2.3"/><circle cx="542.19" cy="302.53" r="2.3"/><circle cx="543.59" cy="298.84" r="2.3"/><circle cx="545.05" cy="300.98" r="2.3"/><circle cx="546.59" cy="301.72" r="2.3"/><circle cx="548.32" cy="296.79" r="2.3"/><circle cx="549.14" cy="301.32" r="2.3"/><circle cx="551.13" cy="300.38" r="2.3"/><circle cx="552.04" cy="300.87" r="2.3"/><circle cx="553.93" cy="298.61" r="2.3"/><circle cx="554.76" cy="300.14" r="2.3"/><circle cx="556.32" cy="301.53" r="2.3"/><circle cx="558.17" cy="302.26" r="2.3"/><circle cx="559.52" cy="300.02" r="2.3"/><circle cx="561.15" cy="296.57" r="2.3"/><circle cx="562.49" cy="300.15" r="2.3"/><circle cx="563.43" cy="296.81" r="2.3"/><circle cx="565.04" cy="299.06" r="2.3"/><circle cx="566.94" cy="299.32" r="2.3"/><circle cx="567.59" cy="299.67" r="2.3"/><circle cx="569.28" cy="296.1" r="2.3"/><circle cx="570.86" cy="294.56" r="2.3"/><circle cx="572.54" cy="293.89" r="2.3"/><circle cx="573.62" cy="295.01" r="2.3"/><circle cx="575.09" cy="291.61" r="2.3"/><circle cx="576.2" cy="288.62" r="2.3"/><circle cx="578.14" cy="287.69" r="2.3"/><circle cx="579.12" cy="284.14" r="2.3"/><circle cx="581.44" cy="279.43" r="2.3"/><circle cx="582.27" cy="281.15" r="2.3"/><circle cx="583.84" cy="273.02" r="2.3"/><circle cx="584.96" cy="272.7" r="2.3"/><circle cx="586.39" cy="270.23" r="2.3"/><circle cx="588.1" cy="266.61" r="2.3"/><circle cx="589.17" cy="262.66" r="2.3"/><circle cx="590.71" cy="259.86" r="2.3"/><circle cx="592.1" cy="255.61" r="2.3"/><circle cx="593.68" cy="249.31" r="2.3"/><circle cx="595.11" cy="246.28" r="2.3"/><circle cx="596.39" cy="243.32" r="2.3"/><circle cx="598.08" cy="240.49" r="2.3"/><circle cx="599.68" cy="238.5" r="2.3"/><circle cx="600.48" cy="234.46" r="2.3"/><circle cx="601.92" cy="232.95" r="2.3"/><circle cx="603.33" cy="230.43" r="2.3"/><circle cx="604.74" cy="227.99" r="2.3"/><circle cx="606.18" cy="231.76" r="2.3"/><circle cx="607.81" cy="231.36" r="2.3"/><circle cx="609.44" cy="227.93" r="2.3"/><circle cx="610.45" cy="232.07" r="2.3"/><circle cx="612.2" cy="229.66" r="2.3"/><circle cx="613.84" cy="234.03" r="2.3"/><circle cx="615.34" cy="233.41" r="2.3"/><circle cx="616.48" cy="239.29" r="2.3"/><circle cx="617.62" cy="241.92" r="2.3"/><circle cx="619.24" cy="247.57" r="2.3"/><circle cx="620.63" cy="251.11" r="2.3"/><circle cx="622.78" cy="253.57" r="2.3"/><circle cx="623.46" cy="258.64" r="2.3"/><circle cx="625.06" cy="261.6" r="2.3"/><circle cx="626.2" cy="263.82" r="2.3"/><circle cx="627.28" cy="269.87" r="2.3"/><circle cx="629.36" cy="273.5" r="2.3"/><circle cx="630.32" cy="275.55" r="2.3"/><circle cx="632.06" cy="279.16" r="2.3"/><circle cx="633.3" cy="280.87" r="2.3"/><circle cx="634.35" cy="284.42" r="2.3"/><circle cx="636.81" cy="287.91" r="2.3"/><circle cx="637.65" cy="291.33" r="2.3"/><circle cx="639.06" cy="290.07" r="2.3"/><circle cx="640.58" cy="293" r="2.3"/><circle cx="642" cy="293.37" r="2.3"/><circle cx="643.41" cy="296.97" r="2.3"/><circle cx="644.71" cy="296.67" r="2.3"/><circle cx="646.49" cy="296.13" r="2.3"/><circle cx="647.58" cy="295.99" r="2.3"/><circle cx="649.5" cy="296.54" r="2.3"/><circle cx="650.99" cy="296.75" r="2.3"/><circle cx="651.95" cy="298.79" r="2.3"/><circle cx="653.02" cy="297.86" r="2.3"/><circle cx="654.69" cy="298.9" r="2.3"/><circle cx="655.75" cy="299.84" r="2.3"/><circle cx="657.69" cy="300.66" r="2.3"/><circle cx="659.42" cy="298.5" r="2.3"/><circle cx="660.49" cy="299.83" r="2.3"/><circle cx="662.1" cy="300.87" r="2.3"/><circle cx="663.58" cy="300.17" r="2.3"/><circle cx="664.82" cy="297.64" r="2.3"/><circle cx="665.99" cy="301.85" r="2.3"/><circle cx="667.32" cy="301.82" r="2.3"/><circle cx="669.17" cy="298.28" r="2.3"/><circle cx="670.72" cy="301.92" r="2.3"/><circle cx="671.84" cy="298.36" r="2.3"/><circle cx="673.27" cy="300.85" r="2.3"/><circle cx="674.99" cy="299.63" r="2.3"/><circle cx="676.59" cy="298.48" r="2.3"/><circle cx="678.06" cy="298.47" r="2.3"/><circle cx="678.62" cy="299.15" r="2.3"/></g>
<polyline points="533.73,300 534.44,300 535.15,300 535.86,300 536.57,300 537.29,300 538,299.99 538.71,299.99 539.42,299.99 540.14,299.99 540.85,299.99 541.56,299.99 542.27,299.98 542.99,299.98 543.7,299.97 544.41,299.97 545.12,299.96 545.84,299.96 546.55,299.95 547.26,299.94 547.98,299.93 548.69,299.92 549.4,299.9 550.11,299.88 550.82,299.86 551.54,299.84 552.25,299.81 552.96,299.78 553.67,299.75 554.39,299.7 555.1,299.66 555.81,299.6 556.52,299.54 557.24,299.48 557.95,299.4 558.66,299.31 559.38,299.21 560.09,299.1 560.8,298.97 561.51,298.83 562.23,298.67 562.94,298.49 563.65,298.29 564.36,298.07 565.07,297.83 565.79,297.56 566.5,297.27 567.21,296.94 567.92,296.58 568.64,296.18 569.35,295.75 570.06,295.28 570.77,294.77 571.49,294.22 572.2,293.61 572.91,292.96 573.62,292.26 574.34,291.51 575.05,290.7 575.76,289.83 576.48,288.9 577.19,287.92 577.9,286.87 578.61,285.76 579.32,284.59 580.04,283.35 580.75,282.05 581.46,280.69 582.17,279.27 582.89,277.78 583.6,276.24 584.31,274.64 585.02,272.99 585.74,271.28 586.45,269.53 587.16,267.74 587.88,265.91 588.59,264.04 589.3,262.15 590.01,260.24 590.73,258.32 591.44,256.39 592.15,254.46 592.86,252.55 593.57,250.65 594.29,248.77 595,246.93 595.71,245.14 596.42,243.39 597.14,241.71 597.85,240.1 598.56,238.56 599.27,237.11 599.99,235.76 600.7,234.5 601.41,233.36 602.12,232.33 602.84,231.42 603.55,230.63 604.26,229.98 604.98,229.46 605.69,229.08 606.4,228.84 607.11,228.74 607.82,228.78 608.54,228.97 609.25,229.29 609.96,229.76 610.67,230.36 611.39,231.09 612.1,231.95 612.81,232.93 613.52,234.03 614.24,235.24 614.95,236.56 615.66,237.97 616.38,239.47 617.09,241.06 617.8,242.71 618.51,244.43 619.23,246.21 619.94,248.03 620.65,249.89 621.36,251.78 622.07,253.7 622.79,255.62 623.5,257.55 624.21,259.48 624.92,261.39 625.64,263.29 626.35,265.16 627.06,267.01 627.77,268.82 628.49,270.59 629.2,272.31 629.91,273.99 630.62,275.61 631.34,277.17 632.05,278.68 632.76,280.13 633.48,281.52 634.19,282.84 634.9,284.1 635.61,285.3 636.32,286.43 637.04,287.51 637.75,288.52 638.46,289.47 639.17,290.36 639.89,291.19 640.6,291.97 641.31,292.69 642.02,293.36 642.74,293.98 643.45,294.55 644.16,295.08 644.88,295.57 645.59,296.02 646.3,296.43 647.01,296.8 647.73,297.14 648.44,297.45 649.15,297.73 649.86,297.98 650.57,298.21 651.29,298.42 652,298.6 652.71,298.77 653.42,298.91 654.14,299.05 654.85,299.16 655.56,299.27 656.27,299.36 656.99,299.44 657.7,299.52 658.41,299.58 659.12,299.64 659.84,299.69 660.55,299.73 661.26,299.77 661.98,299.8 662.69,299.83 663.4,299.85 664.11,299.87 664.82,299.89 665.54,299.91 666.25,299.92 666.96,299.93 667.67,299.94 668.39,299.95 669.1,299.96 669.81,299.97 670.52,299.97 671.24,299.98 671.95,299.98 672.66,299.98 673.38,299.99 674.09,299.99 674.8,299.99 675.51,299.99 676.23,299.99 676.94,299.99 677.65,300 678.36,300 679.07,300" fill="none" stroke="#3353a5" stroke-width="1.9"/>
<text x="618" y="48.8" font-family='"Liberation Serif", serif' font-size="14.8" fill="#eb1f27" text-anchor="start" font-weight="normal" font-style="italic" textLength="9.8" lengthAdjust="spacingAndGlyphs">&#981;</text>
<text x="627.2" y="53.3" font-family='"Liberation Sans", sans-serif' font-size="9.5" fill="#eb1f27" text-anchor="start" font-weight="normal" font-style="normal" textLength="20.8" lengthAdjust="spacingAndGlyphs">pump</text>
<text x="619.3" y="70.2" font-family='"Liberation Sans", sans-serif' font-size="14" fill="#eb1f27" text-anchor="start" font-weight="normal" font-style="normal" textLength="57.8" lengthAdjust="spacingAndGlyphs">= 7.6 <tspan font-family="Liberation Serif, serif">&#956;</tspan>m</text>
<text x="633.8" y="167.1" font-family='"Liberation Sans", sans-serif' font-size="14" fill="#66ba47" text-anchor="start" font-weight="normal" font-style="normal" textLength="40" lengthAdjust="spacingAndGlyphs">15 <tspan font-family="Liberation Serif, serif">&#956;</tspan>m</text>
<text x="635.6" y="263.8" font-family='"Liberation Sans", sans-serif' font-size="14" fill="#3353a5" text-anchor="start" font-weight="normal" font-style="normal" textLength="41" lengthAdjust="spacingAndGlyphs">28 <tspan font-family="Liberation Serif, serif">&#956;</tspan>m</text></svg>
</body></html>
